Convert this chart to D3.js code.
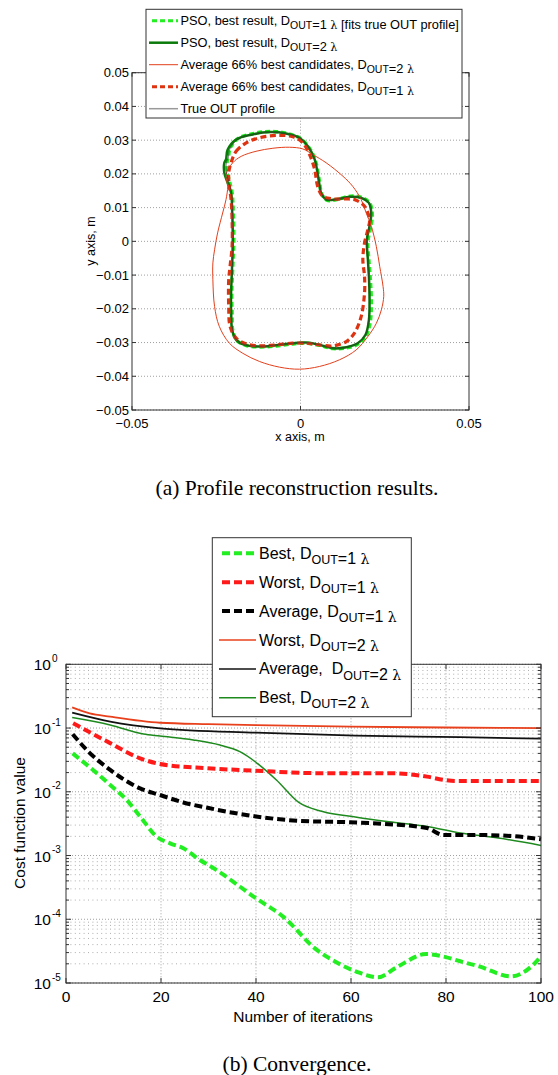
<!DOCTYPE html>
<html>
<head>
<meta charset="utf-8">
<script src="https://cdn.jsdelivr.net/npm/d3@7"></script>
<style>
  body { margin: 0; background: #fff; }
  svg { font-family: "Liberation Sans", Arial, sans-serif; }
</style>
</head>
<body>
<svg id="fig" width="558" height="1075"></svg>
<script>
// ---------- data: (a) profile contours, [x m, y m] ----------
const bestD2 = [
  [-0.0221, 0.0243], [-0.0216, 0.0272], [-0.0191, 0.0302], [-0.0142, 0.0317], [-0.0092, 0.0324],
  [-0.0043, 0.0320], [-0.0003, 0.0307], [0.0022, 0.0282], [0.0042, 0.0243], [0.0054, 0.0183],
  [0.0061, 0.0144], [0.0076, 0.0124], [0.0106, 0.0124], [0.0146, 0.0132], [0.0180, 0.0129],
  [0.0203, 0.0114], [0.0210, 0.0084], [0.0205, 0.0045], [0.0197, 0.0005], [0.0200, -0.0054],
  [0.0203, -0.0104], [0.0205, -0.0173], [0.0203, -0.0233], [0.0193, -0.0277], [0.0170, -0.0302],
  [0.0136, -0.0314], [0.0096, -0.0317], [0.0056, -0.0307], [0.0017, -0.0300], [-0.0023, -0.0302],
  [-0.0072, -0.0308], [-0.0122, -0.0312], [-0.0166, -0.0307], [-0.0191, -0.0292], [-0.0203, -0.0262],
  [-0.0206, -0.0213], [-0.0206, -0.0153], [-0.0203, -0.0074], [-0.0201, 0.0005], [-0.0203, 0.0094],
  [-0.0206, 0.0144], [-0.0216, 0.0173], [-0.0226, 0.0203], [-0.0226, 0.0233]
];
const bestD1 = [
  [-0.0214, 0.0250], [-0.0208, 0.0278], [-0.0185, 0.0305], [-0.0138, 0.0320], [-0.0090, 0.0326],
  [-0.0045, 0.0321], [-0.0002, 0.0306], [0.0024, 0.0280], [0.0044, 0.0240], [0.0056, 0.0180],
  [0.0063, 0.0141], [0.0078, 0.0122], [0.0108, 0.0124], [0.0148, 0.0134], [0.0182, 0.0130],
  [0.0206, 0.0112], [0.0213, 0.0080], [0.0208, 0.0040], [0.0200, 0.0000], [0.0203, -0.0058],
  [0.0207, -0.0110], [0.0210, -0.0180], [0.0207, -0.0238], [0.0195, -0.0280], [0.0172, -0.0304],
  [0.0136, -0.0316], [0.0096, -0.0318], [0.0056, -0.0308], [0.0017, -0.0302], [-0.0023, -0.0304],
  [-0.0072, -0.0310], [-0.0122, -0.0313], [-0.0163, -0.0308], [-0.0189, -0.0294], [-0.0201, -0.0264],
  [-0.0203, -0.0213], [-0.0204, -0.0153], [-0.0201, -0.0074], [-0.0198, 0.0005], [-0.0200, 0.0094],
  [-0.0203, 0.0144], [-0.0210, 0.0175], [-0.0217, 0.0205], [-0.0218, 0.0235]
];
const trueProfile = [
  [-0.0215, 0.0245], [-0.0210, 0.0273], [-0.0187, 0.0302], [-0.0140, 0.0317], [-0.0092, 0.0323],
  [-0.0044, 0.0319], [-0.0003, 0.0306], [0.0022, 0.0281], [0.0042, 0.0242], [0.0054, 0.0182],
  [0.0062, 0.0143], [0.0077, 0.0124], [0.0106, 0.0125], [0.0146, 0.0132], [0.0180, 0.0128],
  [0.0202, 0.0113], [0.0208, 0.0082], [0.0203, 0.0043], [0.0196, 0.0003], [0.0199, -0.0056],
  [0.0202, -0.0106], [0.0204, -0.0175], [0.0202, -0.0234], [0.0192, -0.0277], [0.0169, -0.0301],
  [0.0136, -0.0313], [0.0096, -0.0316], [0.0056, -0.0306], [0.0017, -0.0300], [-0.0023, -0.0302],
  [-0.0072, -0.0307], [-0.0122, -0.0311], [-0.0165, -0.0306], [-0.0190, -0.0291], [-0.0202, -0.0261],
  [-0.0204, -0.0213], [-0.0205, -0.0153], [-0.0202, -0.0074], [-0.0200, 0.0005], [-0.0202, 0.0094],
  [-0.0205, 0.0144], [-0.0212, 0.0174], [-0.0220, 0.0204], [-0.0220, 0.0233]
];
const avgD2 = [
  [-0.0221, 0.0198], [-0.0201, 0.0233], [-0.0176, 0.0252], [-0.0132, 0.0267], [-0.0082, 0.0276],
  [-0.0033, 0.0279], [0.0007, 0.0274], [0.0037, 0.0257], [0.0076, 0.0233], [0.0126, 0.0193],
  [0.0155, 0.0163], [0.0180, 0.0124], [0.0195, 0.0084], [0.0210, 0.0045], [0.0225, -0.0015],
  [0.0235, -0.0074], [0.0245, -0.0134], [0.0247, -0.0163], [0.0240, -0.0203], [0.0225, -0.0243],
  [0.0200, -0.0282], [0.0165, -0.0322], [0.0116, -0.0351], [0.0056, -0.0371], [-0.0003, -0.0379],
  [-0.0062, -0.0373], [-0.0122, -0.0356], [-0.0171, -0.0332], [-0.0211, -0.0302], [-0.0241, -0.0252],
  [-0.0255, -0.0193], [-0.0260, -0.0114], [-0.0260, -0.0064], [-0.0255, -0.0025], [-0.0246, 0.0025],
  [-0.0231, 0.0084], [-0.0221, 0.0124], [-0.0216, 0.0163]
];
const avgD1 = [
  [-0.0206, 0.0233], [-0.0191, 0.0267], [-0.0161, 0.0292], [-0.0122, 0.0307], [-0.0072, 0.0314],
  [-0.0023, 0.0310], [0.0007, 0.0292], [0.0027, 0.0257], [0.0042, 0.0213], [0.0051, 0.0163],
  [0.0066, 0.0134], [0.0096, 0.0126], [0.0136, 0.0126], [0.0165, 0.0122], [0.0190, 0.0104],
  [0.0205, 0.0064], [0.0200, 0.0035], [0.0190, -0.0005], [0.0185, -0.0054], [0.0190, -0.0104],
  [0.0190, -0.0153], [0.0180, -0.0223], [0.0160, -0.0272], [0.0136, -0.0297], [0.0096, -0.0310],
  [0.0056, -0.0307], [0.0017, -0.0302], [-0.0023, -0.0302], [-0.0072, -0.0307], [-0.0122, -0.0310],
  [-0.0161, -0.0304], [-0.0191, -0.0287], [-0.0209, -0.0252], [-0.0213, -0.0193], [-0.0213, -0.0114],
  [-0.0209, -0.0074], [-0.0203, -0.0015], [-0.0203, 0.0064], [-0.0206, 0.0124], [-0.0211, 0.0163],
  [-0.0213, 0.0203]
];
const profileTicks = [-0.05, -0.04, -0.03, -0.02, -0.01, 0, 0.01, 0.02, 0.03, 0.04, 0.05];
const profileXTicks = [-0.05, 0, 0.05];

// ---------- data: (b) convergence, iteration / cost ----------
const itWorst2 = [1.3, 5, 9.3, 19.8, 30, 40, 60, 80, 100];
const costWorst2 = [0.211, 0.17, 0.151, 0.121, 0.115, 0.111, 0.105, 0.102, 0.10];
const itAvg2 = [1.3, 9.3, 19.8, 40, 61, 83, 100];
const costAvg2 = [0.174, 0.126, 0.099, 0.0845, 0.076, 0.072, 0.068];
const itBest2 = [1.3, 9.3, 16.3, 19.8, 26.8, 32.4, 36.6, 40.8, 44.3, 49, 54, 61.2, 68, 76, 83, 91, 100];
const costBest2 = [0.146, 0.112, 0.0806, 0.075, 0.065, 0.054, 0.0426, 0.026, 0.0153, 0.0068, 0.0049,
  0.0040, 0.0034, 0.00286, 0.00225, 0.00188, 0.00144];
const itWorst1 = [1.5, 9.3, 15.6, 19.8, 29.8, 40, 53, 68, 72, 76, 79.5, 82, 100];
const costWorst1 = [0.119, 0.058, 0.0335, 0.0273, 0.0234, 0.0214, 0.0196, 0.0196, 0.0189, 0.0173,
  0.0154, 0.0148, 0.0148];
const itAvg1 = [1.4, 4.8, 9.3, 15.6, 19.8, 24.7, 29.8, 40, 49, 61.2, 68, 76, 79.5, 87, 94.5, 100];
const costAvg1 = [0.080, 0.042, 0.022, 0.0113, 0.0089, 0.0068, 0.0056, 0.0041, 0.0035, 0.0033, 0.0031,
  0.0027, 0.0021, 0.0021, 0.0020, 0.0018];
const itBest1 = [1.4, 5.7, 9.3, 12.8, 15.6, 19.1, 21.9, 24.7, 28.2, 31.7, 40, 45.7, 52.8, 57, 61.2, 65.7,
  69.8, 75.8, 79.5, 83, 87, 93.7, 98, 100];
const costBest1 = [0.040, 0.022, 0.0128, 0.0074, 0.0041, 0.00197, 0.00155, 0.0013, 0.00085, 0.00059,
  0.000213, 0.00011, 3.3e-5, 2.1e-5, 1.5e-5, 1.23e-5, 1.8e-5, 2.85e-5, 2.6e-5, 2.19e-5, 1.82e-5, 1.27e-5,
  1.82e-5, 2.6e-5];
const iterTicks = [0, 20, 40, 60, 80, 100];
const decadeTicks = [1, 1e-1, 1e-2, 1e-3, 1e-4, 1e-5];

const svg = d3.select("#fig");

// text with subscript / lambda pieces
function richText(g, x, y, parts, size, subSize) {
  const t = g.append("text").attr("x", x).attr("y", y).attr("font-size", size)
    .style("white-space", "pre");
  parts.forEach(p => {
    if (p.sub) {
      t.append("tspan").attr("font-size", subSize).attr("dy", size * 0.32).text(p.sub);
      t.append("tspan").attr("dy", -size * 0.32).text("");
    } else if (p.lam) {
      t.append("tspan").attr("font-family", "DejaVu Serif").attr("font-size", size * 0.88).text("λ");
    } else {
      t.append("tspan").text(p.t);
    }
  });
  return t;
}

// ================= (a) profile =================
{
  const x = d3.scaleLinear().domain([-0.05, 0.05]).range([132, 469]);
  const y = d3.scaleLinear().domain([-0.05, 0.05]).range([410, 72.7]);
  const g = svg.append("g");
  const fmt = d => d === 0 ? "0" : d3.format(".2f")(d);

  // grid
  g.append("g").selectAll("line").data(profileTicks).join("line")
    .attr("x1", 132).attr("x2", 469).attr("y1", d => y(d)).attr("y2", d => y(d))
    .attr("stroke", "#888").attr("stroke-width", 0.8).attr("stroke-dasharray", "1,2");
  g.append("line").attr("x1", x(0)).attr("x2", x(0)).attr("y1", 72.7).attr("y2", 410)
    .attr("stroke", "#888").attr("stroke-width", 0.8).attr("stroke-dasharray", "1,2");

  const line = d3.line().x(d => x(d[0])).y(d => y(d[1])).curve(d3.curveCatmullRomClosed.alpha(0.5));
  g.append("path").attr("d", line(bestD1)).attr("fill", "none")
    .attr("stroke", "#22ee22").attr("stroke-width", 3.5).attr("stroke-dasharray", "5,3");
  g.append("path").attr("d", line(bestD2)).attr("fill", "none")
    .attr("stroke", "#0a7a0a").attr("stroke-width", 2.5);
  g.append("path").attr("d", line(avgD2)).attr("fill", "none")
    .attr("stroke", "#e2401c").attr("stroke-width", 1);
  g.append("path").attr("d", line(avgD1)).attr("fill", "none")
    .attr("stroke", "#dd3311").attr("stroke-width", 3.2).attr("stroke-dasharray", "6,3.5");
  g.append("path").attr("d", line(trueProfile)).attr("fill", "none")
    .attr("stroke", "#333").attr("stroke-width", 0.9).attr("opacity", 0.7);

  // box + ticks
  g.append("rect").attr("x", 132).attr("y", 72.7).attr("width", 337).attr("height", 337.3)
    .attr("fill", "none").attr("stroke", "#333").attr("stroke-width", 1);
  g.append("g").selectAll("line").data(profileTicks).join("line")
    .attr("x1", 132).attr("x2", 136).attr("y1", d => y(d)).attr("y2", d => y(d)).attr("stroke", "#333");
  g.append("g").selectAll("line").data(profileTicks).join("line")
    .attr("x1", 465).attr("x2", 469).attr("y1", d => y(d)).attr("y2", d => y(d)).attr("stroke", "#333");
  g.append("g").selectAll("line").data(profileXTicks).join("line")
    .attr("x1", d => x(d)).attr("x2", d => x(d)).attr("y1", 406).attr("y2", 410).attr("stroke", "#333");
  g.append("g").selectAll("line").data(profileXTicks).join("line")
    .attr("x1", d => x(d)).attr("x2", d => x(d)).attr("y1", 72.7).attr("y2", 76.7).attr("stroke", "#333");

  g.append("g").selectAll("text").data(profileTicks).join("text")
    .attr("x", 129).attr("y", d => y(d) + 4.5).attr("text-anchor", "end")
    .attr("font-size", 13).text(fmt);
  g.append("g").selectAll("text").data(profileXTicks).join("text")
    .attr("x", d => x(d)).attr("y", 427.5).attr("text-anchor", "middle")
    .attr("font-size", 13).text(fmt);

  g.append("text").attr("x", 300).attr("y", 441).attr("text-anchor", "middle")
    .attr("font-size", 12.5).text("x axis, m");
  g.append("text").attr("transform", "translate(95,241) rotate(-90)").attr("text-anchor", "middle")
    .attr("font-size", 12.5).text("y axis, m");

  // legend
  const lg = g.append("g");
  lg.append("rect").attr("x", 146).attr("y", 9.3).attr("width", 316).attr("height", 108.7)
    .attr("fill", "#fff").attr("stroke", "#333").attr("stroke-width", 1);
  const items = [
    { c: "#22ee22", w: 3, dash: "5,3", parts: [{ t: "PSO, best result, D" }, { sub: "OUT" }, { t: "=1 " }, { lam: 1 }, { t: " [fits true OUT profile]" }] },
    { c: "#0a7a0a", w: 2.5, parts: [{ t: "PSO, best result, D" }, { sub: "OUT" }, { t: "=2 " }, { lam: 1 }] },
    { c: "#e2401c", w: 1, parts: [{ t: "Average 66% best candidates, D" }, { sub: "OUT" }, { t: "=2 " }, { lam: 1 }] },
    { c: "#dd3311", w: 3, dash: "5,3", parts: [{ t: "Average 66% best candidates, D" }, { sub: "OUT" }, { t: "=1 " }, { lam: 1 }] },
    { c: "#999", w: 1.5, parts: [{ t: "True OUT profile" }] }
  ];
  items.forEach((it, i) => {
    const yy = 20.7 + i * 22;
    lg.append("line").attr("x1", it.dash ? 152 : 149).attr("x2", 178).attr("y1", yy).attr("y2", yy)
      .attr("stroke", it.c).attr("stroke-width", it.w).attr("stroke-dasharray", it.dash || null);
    richText(lg, 180.5, yy + 4.6, it.parts, 12.8, 10.5);
  });

  svg.append("text").attr("x", 297).attr("y", 495).attr("text-anchor", "middle")
    .style("font-family", "'Liberation Serif', 'Times New Roman', serif").attr("font-size", 21.5)
    .text("(a) Profile reconstruction results.");
}

// ================= (b) convergence =================
{
  const x = d3.scaleLinear().domain([0, 100]).range([66, 541]);
  const y = d3.scaleLog().domain([1e-5, 1]).range([983, 664.3]);
  const L = 66, R = 541, T = 664.3, B = 983;
  const g = svg.append("g");

  const minor = [];
  decadeTicks.slice(1).forEach(d => { for (let k = 2; k <= 9; k++) minor.push(d * k); });

  g.append("g").selectAll("line").data(minor).join("line")
    .attr("x1", L).attr("x2", R).attr("y1", d => y(d)).attr("y2", d => y(d))
    .attr("stroke", "#999").attr("stroke-width", 0.8).attr("stroke-dasharray", "1,3.4");
  g.append("g").selectAll("line").data(decadeTicks).join("line")
    .attr("x1", L).attr("x2", R).attr("y1", d => y(d)).attr("y2", d => y(d))
    .attr("stroke", "#888").attr("stroke-width", 0.8).attr("stroke-dasharray", "1,2");
  g.append("g").selectAll("line").data(iterTicks.slice(1, -1)).join("line")
    .attr("x1", d => x(d)).attr("x2", d => x(d)).attr("y1", T).attr("y2", B)
    .attr("stroke", "#888").attr("stroke-width", 0.8).attr("stroke-dasharray", "1,2");

  const draw = (its, vals, color, w, dash) => {
    const pts = its.map((d, i) => [d, vals[i]]);
    g.append("path").attr("fill", "none")
      .attr("d", d3.line().x(d => x(d[0])).y(d => y(d[1])).curve(d3.curveMonotoneX)(pts))
      .attr("stroke", color).attr("stroke-width", w).attr("stroke-dasharray", dash || null);
  };
  draw(itWorst2, costWorst2, "#e8401c", 1.8);
  draw(itAvg2, costAvg2, "#111", 1.8);
  draw(itBest2, costBest2, "#1e8a1e", 1.5);
  draw(itAvg1, costAvg1, "#000", 4, "8,4");
  draw(itWorst1, costWorst1, "#ff1a1a", 4, "8,4");
  draw(itBest1, costBest1, "#22ee22", 4, "8,4");

  g.append("rect").attr("x", L).attr("y", T).attr("width", R - L).attr("height", B - T)
    .attr("fill", "none").attr("stroke", "#333").attr("stroke-width", 1);

  // ticks
  const allY = decadeTicks.concat(minor);
  g.append("g").selectAll("line").data(allY).join("line")
    .attr("x1", L).attr("x2", d => decadeTicks.includes(d) ? L + 5 : L + 3)
    .attr("y1", d => y(d)).attr("y2", d => y(d)).attr("stroke", "#333");
  g.append("g").selectAll("line").data(allY).join("line")
    .attr("x1", d => decadeTicks.includes(d) ? R - 5 : R - 3).attr("x2", R)
    .attr("y1", d => y(d)).attr("y2", d => y(d)).attr("stroke", "#333");
  g.append("g").selectAll("line").data(iterTicks).join("line")
    .attr("x1", d => x(d)).attr("x2", d => x(d)).attr("y1", B - 5).attr("y2", B).attr("stroke", "#333");
  g.append("g").selectAll("line").data(iterTicks).join("line")
    .attr("x1", d => x(d)).attr("x2", d => x(d)).attr("y1", T).attr("y2", T + 5).attr("stroke", "#333");

  decadeTicks.forEach(d => {
    const e = Math.round(Math.log10(d));
    const yy = y(d);
    g.append("text").attr("x", 51).attr("y", yy + 6).attr("text-anchor", "end")
      .attr("font-size", 15.5).text("10");
    g.append("text").attr("x", 52).attr("y", yy - 2.5).attr("font-size", 10).text(String(e));
  });
  g.append("g").selectAll("text").data(iterTicks).join("text")
    .attr("x", d => x(d)).attr("y", 1002).attr("text-anchor", "middle")
    .attr("font-size", 15.5).text(d => d);

  g.append("text").attr("x", 303).attr("y", 1022).attr("text-anchor", "middle")
    .attr("font-size", 15.5).text("Number of iterations");
  g.append("text").attr("transform", "translate(25,823) rotate(-90)").attr("text-anchor", "middle")
    .attr("font-size", 15.5).text("Cost function value");

  // legend
  const lg = g.append("g");
  lg.append("rect").attr("x", 212.3).attr("y", 537.7).attr("width", 199).attr("height", 179)
    .attr("fill", "#fff").attr("stroke", "#333").attr("stroke-width", 1);
  const items = [
    { c: "#22ee22", w: 4, dash: "8,4", parts: [{ t: "Best, D" }, { sub: "OUT" }, { t: "=1 " }, { lam: 1 }] },
    { c: "#ff1a1a", w: 4, dash: "8,4", parts: [{ t: "Worst, D" }, { sub: "OUT" }, { t: "=1 " }, { lam: 1 }] },
    { c: "#000", w: 4, dash: "8,4", parts: [{ t: "Average, D" }, { sub: "OUT" }, { t: "=1 " }, { lam: 1 }] },
    { c: "#e8401c", w: 1.5, parts: [{ t: "Worst, D" }, { sub: "OUT" }, { t: "=2 " }, { lam: 1 }] },
    { c: "#111", w: 1.5, parts: [{ t: "Average,  D" }, { sub: "OUT" }, { t: "=2 " }, { lam: 1 }] },
    { c: "#1e8a1e", w: 1.5, parts: [{ t: "Best, D" }, { sub: "OUT" }, { t: "=2 " }, { lam: 1 }] }
  ];
  items.forEach((it, i) => {
    const yy = 553.3 + i * 28.9;
    lg.append("line").attr("x1", it.dash ? 222 : 219).attr("x2", 256).attr("y1", yy).attr("y2", yy)
      .attr("stroke", it.c).attr("stroke-width", it.w).attr("stroke-dasharray", it.dash || null);
    richText(lg, 259, yy + 5.5, it.parts, 16, 12.5);
  });

  svg.append("text").attr("x", 297).attr("y", 1071).attr("text-anchor", "middle")
    .style("font-family", "'Liberation Serif', 'Times New Roman', serif").attr("font-size", 21.5)
    .text("(b) Convergence.");
}
</script>
</body>
</html>
